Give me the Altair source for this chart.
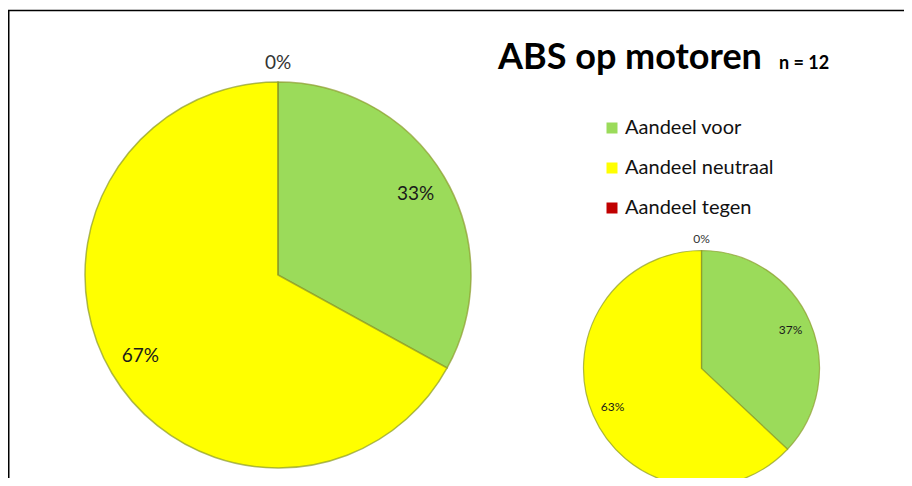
import altair as alt
import pandas as pd

# ---- data ----
categories = ["Aandeel voor", "Aandeel neutraal", "Aandeel tegen"]
large_values = [33, 67, 0]
small_values = [37, 63, 0]
colors = ["#9BDB5A", "#FFFF00", "#C00000"]
title_text = "ABS op motoren"
n_text = "n = 12"

FONT = "Lato"


def frame(values):
    return pd.DataFrame({
        "cat": categories,
        "value": values,
        "order": list(range(len(categories))),
        "label": [f"{v}%" for v in values],
    })


large_df = frame(large_values)
small_df = frame(small_values)

color_scale = alt.Scale(domain=categories, range=colors)
theta_scale = alt.Scale(domain=[0, 100])
legend = alt.Legend(
    orient="none", legendX=594, legendY=110, title=None,
    symbolType="square", symbolSize=121, symbolStrokeWidth=0,
    labelFontSize=20, labelFont=FONT, labelColor="#111111",
    rowPadding=20, labelOffset=3, padding=0,
)


def pie(df, cx, cy, r, stroke_w, label_r, zero_r, fsize, show_legend):
    base = alt.Chart(df)
    theta = alt.Theta("value:Q", stack=True, scale=theta_scale)
    arcs = base.mark_arc(
        x=cx, y=cy, outerRadius=r, stroke="#8A9A2A", strokeWidth=stroke_w,
        strokeOpacity=0.7,
    ).encode(
        theta=theta,
        color=alt.Color("cat:N", scale=color_scale,
                        legend=legend if show_legend else None),
        order=alt.Order("order:Q"),
    )
    inner = base.transform_filter("datum.value > 0").mark_text(
        x=cx, y=cy, radius=label_r, fontSize=fsize, font=FONT,
        color="#1a1a1a", align="center", baseline="middle",
    ).encode(
        theta=theta,
        detail="cat:N",
        order=alt.Order("order:Q"),
        text="label:N",
    )
    zero = base.transform_filter("datum.value == 0").mark_text(
        x=cx, y=cy, radius=zero_r, fontSize=fsize, font=FONT,
        color="#333333", align="center", baseline="middle",
    ).encode(
        theta=theta,
        detail="cat:N",
        order=alt.Order("order:Q"),
        text="label:N",
    )
    return [arcs, inner, zero]


layers = []
layers += pie(large_df, 270, 267, 193, 1.5, 160, 212, 19, True)
layers += pie(small_df, 693.5, 360.5, 118, 1.2, 97, 130, 12, False)

title_df = pd.DataFrame({"t": [title_text]})
n_df = pd.DataFrame({"t": [n_text]})
title = alt.Chart(title_df).mark_text(
    x=490, y=61, align="left", baseline="alphabetic", fontSize=36,
    fontWeight="bold", font=FONT, color="#000000",
).encode(text="t:N")
ntext = alt.Chart(n_df).mark_text(
    x=771, y=61, align="left", baseline="alphabetic", fontSize=18,
    fontWeight="bold", font=FONT, color="#000000",
).encode(text="t:N")

top_line = alt.Chart(title_df).mark_rule(color="#000000", strokeWidth=1.5).encode(
    x=alt.value(0), x2=alt.value(896), y=alt.value(2.5))
left_line = alt.Chart(title_df).mark_rule(color="#000000", strokeWidth=1.5).encode(
    x=alt.value(0.75), y=alt.value(2), y2=alt.value(470))

chart = alt.layer(*layers, title, ntext, top_line, left_line).properties(
    width=896, height=470, padding=0, autosize=alt.AutoSizeParams(type="none"),
    background="white",
).configure_view(stroke=None)

chart.save("out.html", embed_options={"renderer": "svg", "actions": False})
